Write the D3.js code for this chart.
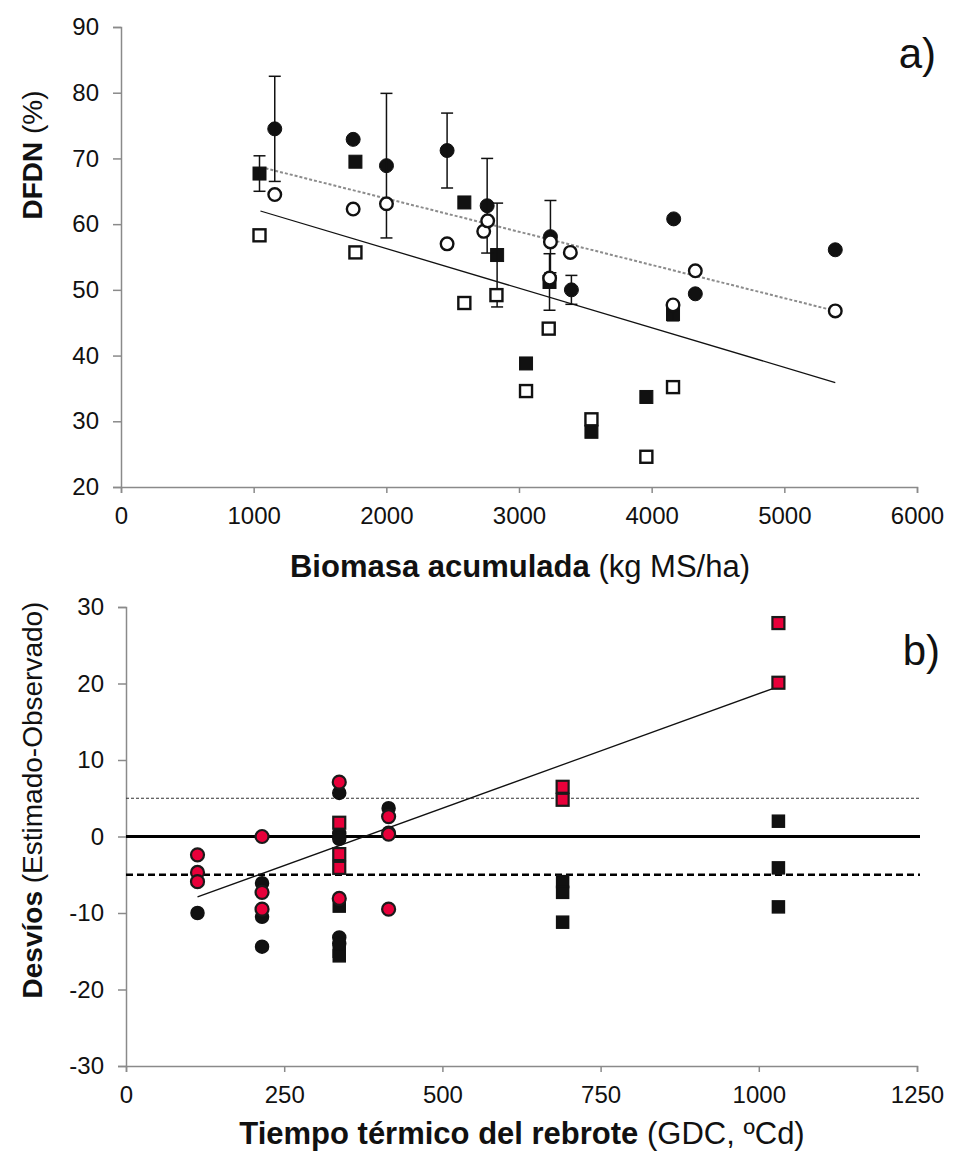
<!DOCTYPE html>
<html><head><meta charset="utf-8">
<script src="https://cdn.jsdelivr.net/npm/d3@7"></script>
<style>
html,body{margin:0;padding:0;background:#fff;}
text{font-family:"Liberation Sans",Arial,sans-serif;}
</style></head>
<body>
<svg id="chart" width="953" height="1157"></svg>
<script>
// ---------- Panel a data ----------
const aXTicks = [0,1000,2000,3000,4000,5000,6000];
const aYTicks = [20,30,40,50,60,70,80,90];
// filled circles
const aFCx = [1159,1750,2001,2458,2760,3237,3395,4166,4329,5384];
const aFCy = [74.5,72.9,68.9,71.2,62.8,58.1,50.0,60.8,49.4,56.1];
const aFCe = [8,0,11,5.7,7.2,5.5,2.2,0,0,0];
// open circles
const aOCx = [1159,1750,2001,2458,2734,2764,3237,3231,3387,4161,4329,5384];
const aOCy = [64.5,62.3,63.1,57.0,58.9,60.5,57.3,51.8,55.7,47.7,52.9,46.8];
// filled squares
const aFSx = [1044,1767,2588,2835,3053,3230,3546,3960,4161];
const aFSy = [67.7,69.5,63.3,55.3,38.8,51.2,28.4,33.7,46.3];
const aFSe = [2.7,0,0,7.9,0,4.3,0,0,1.0];
// open squares
const aOSx = [1044,1767,2588,2830,3053,3224,3546,3960,4161];
const aOSy = [58.3,55.7,48.0,49.2,34.6,44.1,30.3,24.6,35.2];
// fitted lines
const aFitCircX = [1089,5384], aFitCircY = [68.5,46.8];
const aFitSqX = [1051,5384], aFitSqY = [62.0,35.9];

// ---------- Panel b data ----------
const bXTicks = [0,250,500,750,1000,1250];
const bYTicks = [-30,-20,-10,0,10,20,30];
const bRCx = [113,113,113,215,215,215,337,337,415,415,415];
const bRCy = [-2.4,-4.7,-5.9,0,-7.3,-9.5,7.1,-8.1,2.6,0.3,-9.5];
const bKCx = [113,215,215,215,337,337,337,337,337,415,415];
const bKCy = [-10.0,-6.1,-10.5,-14.4,5.7,0.4,-0.3,-13.2,-14.0,3.7,0.5];
const bRSx = [337,337,337,690,690,1031,1031];
const bRSy = [1.8,-2.3,-4.1,6.5,4.8,27.9,20.1];
const bKSx = [337,337,337,690,690,690,1031,1031,1031];
const bKSy = [-9.1,-15.0,-15.6,-5.9,-7.3,-11.2,2.0,-4.1,-9.2];
const bFitX = [113,1031], bFitY = [-7.9,19.6];
const bRefY = [0,-5,5];

const svg = d3.select("#chart");
const AX = "#8a8a8a";
const RED = "#e8003a";

// ===== Panel a =====
const xa = d3.scaleLinear().domain([0,6000]).range([121,917]);
const ya = d3.scaleLinear().domain([20,90]).range([487,27]);
const ga = svg.append("g");

const yAxA = ga.append("g").attr("transform","translate(121,0)")
  .call(d3.axisLeft(ya).tickValues(aYTicks).tickSize(8).tickPadding(14).tickFormat(d3.format("d")));
const xAxA = ga.append("g").attr("transform","translate(0,487)")
  .call(d3.axisBottom(xa).tickValues(aXTicks).tickSize(6).tickPadding(14).tickFormat(d3.format("d")));
[yAxA,xAxA].forEach(a=>{
  a.select(".domain").attr("stroke",AX).attr("stroke-width",1.5);
  a.selectAll(".tick line").attr("stroke",AX).attr("stroke-width",1.5);
  a.selectAll("text").attr("fill","#111").style("font-size","24px");
});

const line = d3.line();
ga.append("path").attr("d",line(aFitCircX.map((d,i)=>[xa(d),ya(aFitCircY[i])])))
  .attr("stroke","#8c8c8c").attr("stroke-width",2).attr("stroke-dasharray","3,2").attr("fill","none");
ga.append("path").attr("d",line(aFitSqX.map((d,i)=>[xa(d),ya(aFitSqY[i])])))
  .attr("stroke","#111").attr("stroke-width",1.3).attr("fill","none");

function errBars(g,xs,ys,es,xs_,ys_){
  xs.forEach((x,i)=>{
    const e = es[i]; if(!e) return;
    const px = xs_(x), y1 = ys_(ys[i]+e), y2 = ys_(ys[i]-e);
    g.append("line").attr("x1",px).attr("x2",px).attr("y1",y1).attr("y2",y2).attr("stroke","#111").attr("stroke-width",1.5);
    [y1,y2].forEach(yy=>g.append("line").attr("x1",px-6).attr("x2",px+6).attr("y1",yy).attr("y2",yy).attr("stroke","#111").attr("stroke-width",1.5));
  });
}
function squares(g,xs,ys,sx,sy,size,fill,stroke,sw){
  g.selectAll(null).data(xs.map((x,i)=>[x,ys[i]])).enter().append("rect")
    .attr("x",d=>sx(d[0])-size/2).attr("y",d=>sy(d[1])-size/2)
    .attr("width",size).attr("height",size)
    .attr("fill",fill).attr("stroke",stroke).attr("stroke-width",sw);
}
function circles(g,xs,ys,sx,sy,r,fill,stroke,sw){
  g.selectAll(null).data(xs.map((x,i)=>[x,ys[i]])).enter().append("circle")
    .attr("cx",d=>sx(d[0])).attr("cy",d=>sy(d[1])).attr("r",r)
    .attr("fill",fill).attr("stroke",stroke).attr("stroke-width",sw);
}

squares(ga,aFSx,aFSy,xa,ya,13,"#111","#111",1);
circles(ga,aFCx,aFCy,xa,ya,7,"#111","#111",1);
errBars(ga,aFSx,aFSy,aFSe,xa,ya);
errBars(ga,aFCx,aFCy,aFCe,xa,ya);
squares(ga,aOSx,aOSy,xa,ya,12,"#fff","#111",2.4);
circles(ga,aOCx,aOCy,xa,ya,6.3,"#fff","#111",2.4);

ga.append("text").attr("x",936).attr("y",68).attr("text-anchor","end")
  .style("font-size","42px").attr("fill","#111").text("a)");

const xtA = ga.append("text").attr("x",520).attr("y",577).attr("text-anchor","middle").style("font-size","31px").attr("fill","#111");
xtA.append("tspan").attr("font-weight","bold").text("Biomasa acumulada");
xtA.append("tspan").text(" (kg MS/ha)");
const ytA = ga.append("text").attr("transform","translate(42,155) rotate(-90)").attr("text-anchor","middle").style("font-size","28px").attr("fill","#111");
ytA.append("tspan").attr("font-weight","bold").text("DFDN");
ytA.append("tspan").text(" (%)");

// ===== Panel b =====
const xb = d3.scaleLinear().domain([0,1250]).range([126,917]);
const yb = d3.scaleLinear().domain([-30,30]).range([1066,607]);
const gb = svg.append("g");

const yAxB = gb.append("g").attr("transform","translate(126,0)")
  .call(d3.axisLeft(yb).tickValues(bYTicks).tickSize(8).tickPadding(14).tickFormat(d3.format("d")));
const xAxB = gb.append("g").attr("transform","translate(0,1066)")
  .call(d3.axisBottom(xb).tickValues(bXTicks).tickSize(6).tickPadding(14).tickFormat(d3.format("d")));
[yAxB,xAxB].forEach(a=>{
  a.select(".domain").attr("stroke",AX).attr("stroke-width",1.5);
  a.selectAll(".tick line").attr("stroke",AX).attr("stroke-width",1.5);
  a.selectAll("text").attr("fill","#111").style("font-size","24px");
});
yAxB.selectAll("text").text(d=>d<0?"-"+Math.abs(d):d);

// reference lines
const refStyle = [
  {w:3,dash:null,c:"#000"},
  {w:2.4,dash:"7,4",c:"#000"},
  {w:1,dash:"3,2",c:"#333"}
];
bRefY.forEach((v,i)=>{
  gb.append("line").attr("x1",xb(0)).attr("x2",xb(1250)+3).attr("y1",yb(v)).attr("y2",yb(v))
    .attr("stroke",refStyle[i].c).attr("stroke-width",refStyle[i].w)
    .attr("stroke-dasharray",refStyle[i].dash);
});
gb.append("path").attr("d",line(bFitX.map((d,i)=>[xb(d),yb(bFitY[i])])))
  .attr("stroke","#111").attr("stroke-width",1.3).attr("fill","none");

squares(gb,bKSx,bKSy,xb,yb,12,"#111","#111",1.5);
circles(gb,bKCx,bKCy,xb,yb,6.5,"#111","#111",1.5);
squares(gb,bRSx,bRSy,xb,yb,12,RED,"#1a1a1a",2.2);
circles(gb,bRCx,bRCy,xb,yb,6.5,RED,"#1a1a1a",2.2);

gb.append("text").attr("x",940).attr("y",665).attr("text-anchor","end")
  .style("font-size","42px").attr("fill","#111").text("b)");

const xtB = gb.append("text").attr("x",522).attr("y",1144).attr("text-anchor","middle").style("font-size","31px").attr("fill","#111");
xtB.append("tspan").attr("font-weight","bold").text("Tiempo térmico del rebrote");
xtB.append("tspan").text(" (GDC, ºCd)");
const ytB = gb.append("text").attr("transform","translate(42,800) rotate(-90)").attr("text-anchor","middle").style("font-size","28px").attr("fill","#111");
ytB.append("tspan").attr("font-weight","bold").text("Desvíos");
ytB.append("tspan").text(" (Estimado-Observado)");
</script>
</body></html>
